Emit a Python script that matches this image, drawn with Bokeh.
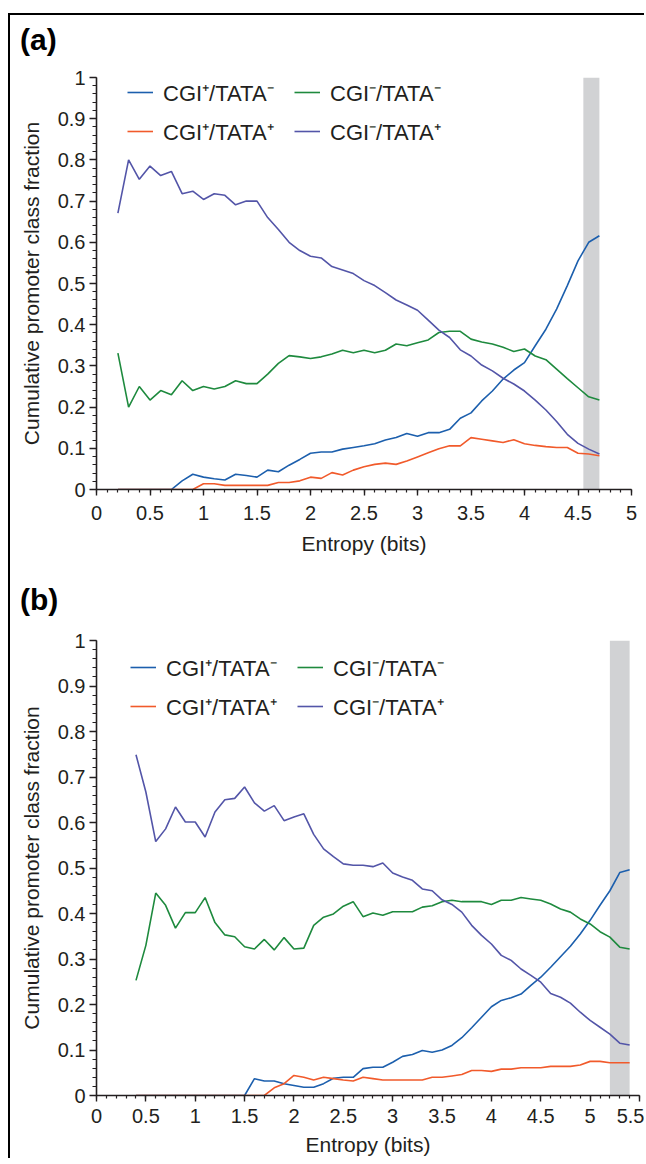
from bokeh.plotting import figure
from bokeh.models import (Legend, LegendItem, BoxAnnotation, FixedTicker,
                          CustomJSTickFormatter, Div)
from bokeh.layouts import column
from bokeh.embed import file_html
from bokeh.resources import INLINE

# ---------------- data ----------------
series_names = ["CGI\u207a/TATA\u207b", "CGI\u207a/TATA\u207a",
                "CGI\u207b/TATA\u207b", "CGI\u207b/TATA\u207a"]
series_colors = ["#1c5fad", "#f15a2b", "#1e8a3e", "#5355a8"]

entropy_a = [0.2, 0.3, 0.4, 0.5, 0.6, 0.7, 0.8, 0.9, 1.0, 1.1, 1.2, 1.3, 1.4, 1.5,
             1.6, 1.7, 1.8, 1.9, 2.0, 2.1, 2.2, 2.3, 2.4, 2.5, 2.6, 2.7, 2.8, 2.9,
             3.0, 3.1, 3.2, 3.3, 3.4, 3.5, 3.6, 3.7, 3.8, 3.9, 4.0, 4.1, 4.2, 4.3,
             4.4, 4.5, 4.6, 4.7]
cgip_tatam_a = [0, 0, 0, 0, 0, 0, 0.021, 0.037, 0.030, 0.026, 0.023, 0.037, 0.034,
                0.030, 0.047, 0.043, 0.059, 0.073, 0.088, 0.091, 0.091, 0.098, 0.102,
                0.106, 0.111, 0.120, 0.126, 0.136, 0.129, 0.138, 0.138, 0.146, 0.173,
                0.186, 0.215, 0.239, 0.268, 0.290, 0.308, 0.349, 0.389, 0.438, 0.495,
                0.555, 0.600, 0.616]
cgip_tatap_a = [0, 0, 0, 0, 0, 0, 0, 0, 0.014, 0.014, 0.010, 0.010, 0.010, 0.010,
                0.010, 0.017, 0.017, 0.021, 0.030, 0.027, 0.041, 0.035, 0.047, 0.055,
                0.061, 0.064, 0.061, 0.069, 0.079, 0.089, 0.099, 0.106, 0.106, 0.126,
                0.122, 0.118, 0.114, 0.121, 0.111, 0.107, 0.104, 0.102, 0.102, 0.088,
                0.086, 0.082]
cgim_tatam_a = [0.331, 0.200, 0.250, 0.217, 0.240, 0.230, 0.264, 0.240, 0.250, 0.244,
                0.250, 0.264, 0.257, 0.257, 0.280, 0.306, 0.325, 0.322, 0.318, 0.322,
                0.329, 0.338, 0.332, 0.338, 0.332, 0.338, 0.353, 0.349, 0.356, 0.363,
                0.381, 0.384, 0.384, 0.365, 0.358, 0.353, 0.345, 0.335, 0.341, 0.324,
                0.315, 0.292, 0.269, 0.247, 0.225, 0.217]
cgim_tatap_a = [0.671, 0.800, 0.753, 0.785, 0.762, 0.772, 0.718, 0.724, 0.704, 0.718,
                0.714, 0.691, 0.700, 0.700, 0.660, 0.631, 0.600, 0.580, 0.566, 0.562,
                0.541, 0.533, 0.524, 0.507, 0.495, 0.478, 0.460, 0.448, 0.435, 0.411,
                0.387, 0.369, 0.339, 0.324, 0.302, 0.288, 0.270, 0.256, 0.239, 0.217,
                0.193, 0.165, 0.134, 0.112, 0.098, 0.086]

entropy_b = [0.4, 0.5, 0.6, 0.7, 0.8, 0.9, 1.0, 1.1, 1.2, 1.3, 1.4, 1.5, 1.6, 1.7,
             1.8, 1.9, 2.0, 2.1, 2.2, 2.3, 2.4, 2.5, 2.6, 2.7, 2.8, 2.9, 3.0, 3.1,
             3.2, 3.3, 3.4, 3.5, 3.6, 3.7, 3.8, 3.9, 4.0, 4.1, 4.2, 4.3, 4.4, 4.5,
             4.6, 4.7, 4.8, 4.9, 5.0, 5.1, 5.2, 5.3, 5.4]
cgip_tatam_b = [0, 0, 0, 0, 0, 0, 0, 0, 0, 0, 0, 0, 0.037, 0.032, 0.032, 0.026, 0.022,
                0.018, 0.018, 0.026, 0.038, 0.040, 0.040, 0.059, 0.062, 0.062, 0.073,
                0.086, 0.090, 0.099, 0.095, 0.100, 0.110, 0.127, 0.149, 0.172, 0.195,
                0.209, 0.215, 0.223, 0.242, 0.260, 0.282, 0.305, 0.328, 0.355, 0.385,
                0.418, 0.450, 0.490, 0.496]
cgip_tatap_b = [0, 0, 0, 0, 0, 0, 0, 0, 0, 0, 0, 0, 0, 0, 0.017, 0.026, 0.044, 0.040,
                0.034, 0.040, 0.037, 0.034, 0.032, 0.040, 0.037, 0.034, 0.034, 0.034,
                0.034, 0.034, 0.040, 0.040, 0.043, 0.046, 0.055, 0.055, 0.053, 0.058,
                0.058, 0.061, 0.061, 0.061, 0.064, 0.064, 0.064, 0.067, 0.075, 0.075,
                0.072, 0.072, 0.072]
cgim_tatam_b = [0.253, 0.330, 0.445, 0.418, 0.368, 0.402, 0.402, 0.435, 0.380, 0.353,
                0.349, 0.327, 0.322, 0.343, 0.320, 0.347, 0.322, 0.324, 0.374, 0.392,
                0.399, 0.416, 0.426, 0.393, 0.401, 0.396, 0.404, 0.404, 0.404, 0.414,
                0.417, 0.426, 0.429, 0.426, 0.426, 0.426, 0.420, 0.429, 0.429, 0.435,
                0.432, 0.429, 0.421, 0.410, 0.403, 0.388, 0.377, 0.360, 0.348, 0.326,
                0.322]
cgim_tatap_b = [0.749, 0.667, 0.558, 0.586, 0.634, 0.601, 0.601, 0.568, 0.623, 0.650,
                0.653, 0.678, 0.643, 0.625, 0.637, 0.604, 0.612, 0.619, 0.574, 0.542,
                0.525, 0.509, 0.506, 0.506, 0.503, 0.511, 0.489, 0.480, 0.473, 0.454,
                0.450, 0.430, 0.420, 0.403, 0.374, 0.352, 0.333, 0.308, 0.297, 0.278,
                0.264, 0.249, 0.224, 0.216, 0.203, 0.183, 0.165, 0.150, 0.135, 0.115,
                0.111]

band_a = [4.55, 4.70]
band_b = [5.20, 5.40]

y_ticks = [0, 0.1, 0.2, 0.3, 0.4, 0.5, 0.6, 0.7, 0.8, 0.9, 1.0]
x_ticks_a = [0, 0.5, 1, 1.5, 2, 2.5, 3, 3.5, 4, 4.5, 5]
x_ticks_b = [0, 0.5, 1, 1.5, 2, 2.5, 3, 3.5, 4, 4.5, 5, 5.5]

# ---------------- styling ----------------
FONT = "Liberation Sans"
INK = "#231f20"
fmt = CustomJSTickFormatter(code="return tick.toFixed(1).replace(/\\.0$/, '');")


def tag_div(tag):
    html = ('<div style="padding:10px 0 0 10px; font-family:\'Liberation Sans\', Arial, sans-serif; '
            'font-size:30px; font-weight:bold; line-height:30px; color:black; margin:0;">'
            + tag + '</div>')
    return Div(text=html, width=634, height=47, margin=0)


def make_panel(xs, series, band, xmax, xticks, frame_w, frame_h,
               mb_left, mb_top, mb_right, mb_bottom, leg_xy,
               tick_standoff, label_standoff):
    p = figure(frame_width=frame_w, frame_height=frame_h,
               x_range=(0, xmax), y_range=(0, 1),
               output_backend="svg", toolbar_location=None,
               min_border_left=mb_left, min_border_top=mb_top,
               min_border_right=mb_right, min_border_bottom=mb_bottom)
    p.outline_line_color = None
    p.xgrid.visible = False
    p.ygrid.visible = False
    p.background_fill_color = "white"
    p.border_fill_color = "white"

    p.add_layout(BoxAnnotation(left=band[0], right=band[1], fill_color="#d1d2d4",
                               fill_alpha=1.0, line_color=None, level="underlay"))

    renderers = []
    for ys, col in zip(series, series_colors):
        r = p.line(xs, ys, line_color=col, line_width=1.6)
        renderers.append(r)

    minor_x = [i / 10 for i in range(0, int(round(xmax * 10)) + 1)]
    minor_y = [i / 50 for i in range(0, 51)]
    p.xaxis.ticker = FixedTicker(ticks=xticks, minor_ticks=minor_x)
    p.yaxis.ticker = FixedTicker(ticks=y_ticks, minor_ticks=minor_y)
    for ax in (p.xaxis[0], p.yaxis[0]):
        ax.formatter = fmt
        ax.axis_line_color = INK
        ax.axis_line_width = 1.6
        ax.major_tick_line_color = INK
        ax.major_tick_line_width = 1.4
        ax.minor_tick_line_color = INK
        ax.minor_tick_line_width = 1.2
        ax.major_tick_in = 0
        ax.minor_tick_in = 0
        ax.major_label_text_font = FONT
        ax.major_label_text_font_size = "20px"
        ax.major_label_text_color = INK
        ax.axis_label_text_font = FONT
        ax.axis_label_text_font_size = "21px"
        ax.axis_label_text_font_style = "normal"
        ax.axis_label_text_color = INK
    p.xaxis.major_tick_out = 6
    p.xaxis.minor_tick_out = 3
    p.yaxis.major_tick_out = 7
    p.yaxis.minor_tick_out = 4
    p.xaxis.major_label_standoff = tick_standoff
    p.yaxis.major_label_standoff = 4
    p.xaxis.axis_label = "Entropy (bits)"
    p.yaxis.axis_label = "Cumulative promoter class fraction"
    p.xaxis.axis_label_standoff = label_standoff
    p.yaxis.axis_label_standoff = 12

    items = [LegendItem(label=series_names[i], renderers=[renderers[i]]) for i in range(4)]
    leg = Legend(items=items, ncols=2, location=leg_xy,
                 label_text_font=FONT, label_text_font_size="22px",
                 label_text_color=INK, glyph_width=26, glyph_height=20,
                 label_height=20, label_width=122, label_standoff=10,
                 spacing=9, padding=0, margin=0,
                 border_line_color=None, background_fill_alpha=0)
    p.add_layout(leg)
    return p


pa = make_panel(entropy_a,
                [cgip_tatam_a, cgip_tatap_a, cgim_tatam_a, cgim_tatap_a],
                band_a, 5, x_ticks_a, 535, 412, 86, 15, 13, 86, (31, 343), 10, 9)
pb = make_panel(entropy_b,
                [cgip_tatam_b, cgip_tatap_b, cgim_tatam_b, cgim_tatap_b],
                band_b, 5.5, x_ticks_b, 543, 455, 81, 18, 10, 62, (34, 374), 7, 7)

layout = column(tag_div("(a)"), pa, tag_div("(b)"), pb, spacing=0,
                styles={"border-left": "2px solid black", "border-top": "2px solid black",
                        "margin-left": "8px", "margin-top": "13px"})

open("out.html", "w").write(file_html(layout, INLINE))
